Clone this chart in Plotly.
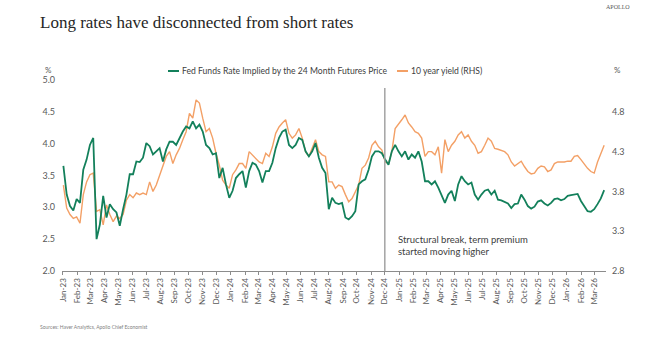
import pandas as pd
import plotly.graph_objects as go

# ---- data (~weekly) ----
fed_funds = [
    3.65, 3.20, 3.02, 2.95, 3.13, 3.07, 3.59, 3.75, 3.98, 4.09, 2.50, 2.73, 3.18, 2.84, 3.05, 2.97,
    2.92, 2.71, 2.97, 3.20, 3.52, 3.52, 3.72, 3.71, 3.78, 4.01, 3.96, 3.83, 3.88, 3.93, 3.72, 3.91, 4.03,
    4.03, 3.98, 4.09, 4.19, 4.27, 4.24, 4.35, 4.24, 4.30, 4.19, 3.98, 3.93, 3.83, 3.85, 3.46, 3.62,
    3.36, 3.15, 3.26, 3.46, 3.52, 3.57, 3.31, 3.57, 3.70, 3.67, 3.57, 3.39, 3.57, 3.57, 3.70, 3.93, 4.09,
    4.19, 4.22, 3.98, 3.93, 3.98, 4.09, 4.06, 3.88, 3.80, 3.88, 4.01, 3.78, 3.62, 3.54, 2.97, 3.15,
    3.07, 3.05, 3.07, 2.84, 2.81, 2.86, 2.94, 3.36, 3.41, 3.44, 3.59, 3.80, 3.88, 3.88, 3.85, 3.75, 3.67,
    3.88, 3.98, 3.88, 3.80, 3.88, 3.75, 3.83, 3.78, 3.88, 3.72, 3.41, 3.41, 3.36, 3.41, 3.31, 3.20,
    3.07, 3.20, 3.26, 3.10, 3.36, 3.49, 3.41, 3.36, 3.39, 3.20, 3.12, 3.20, 3.26, 3.28, 3.20, 3.26, 3.12,
    3.11, 3.09, 3.06, 2.99, 3.05, 3.06, 3.20, 3.12, 3.02, 2.98, 3.01, 3.09, 3.11, 3.06, 3.03, 3.07,
    3.13, 3.14, 3.11, 3.13, 3.18, 3.19, 3.20, 3.21, 3.10, 3.01, 2.94, 2.93, 2.97, 3.05, 3.14, 3.27,
]
ten_year = [
    3.88, 3.59, 3.51, 3.46, 3.48, 3.40, 3.76, 3.92, 4.01, 4.03, 3.55, 3.57, 3.38, 3.63, 3.51, 3.42,
    3.49, 3.46, 3.51, 3.69, 3.76, 3.72, 3.78, 3.76, 3.78, 3.76, 3.92, 3.80, 3.88, 4.01, 4.13, 4.24, 4.30,
    4.15, 4.26, 4.34, 4.45, 4.55, 4.78, 4.72, 4.95, 4.91, 4.72, 4.55, 4.59, 4.47, 4.28, 4.13, 3.94,
    3.88, 3.84, 4.01, 4.07, 4.15, 4.15, 4.09, 4.30, 4.26, 4.22, 4.17, 4.15, 4.28, 4.24, 4.36, 4.53, 4.61,
    4.66, 4.70, 4.53, 4.47, 4.51, 4.59, 4.47, 4.30, 4.24, 4.34, 4.45, 4.30, 4.26, 4.24, 3.92, 3.92,
    3.84, 3.88, 3.86, 3.76, 3.67, 3.71, 3.80, 3.88, 4.09, 4.13, 4.22, 4.38, 4.43, 4.36, 4.32, 4.17, 4.15,
    4.30, 4.59, 4.64, 4.70, 4.76, 4.66, 4.61, 4.55, 4.53, 4.47, 4.24, 4.30, 4.30, 4.26, 4.36, 4.03,
    4.45, 4.30, 4.38, 4.43, 4.51, 4.55, 4.47, 4.51, 4.43, 4.38, 4.28, 4.30, 4.38, 4.47, 4.43, 4.34, 4.33,
    4.31, 4.30, 4.26, 4.17, 4.12, 4.15, 4.18, 4.11, 4.05, 4.02, 4.03, 4.09, 4.12, 4.11, 4.05, 4.07,
    4.15, 4.17, 4.17, 4.17, 4.18, 4.18, 4.24, 4.25, 4.20, 4.14, 4.09, 4.05, 4.03, 4.17, 4.28, 4.38,
]
start_date, end_date = "2023-01-02", "2026-03-23"
dates_ff = pd.date_range(start_date, end_date, periods=len(fed_funds))
dates_ty = pd.date_range(start_date, end_date, periods=len(ten_year))

left_ticks = [2.0, 2.5, 3.0, 3.5, 4.0, 4.5, 5.0]
right_ticks = [2.8, 3.3, 3.8, 4.3, 4.8]
break_date = "2024-12-01"

title = "Long rates have disconnected from short rates"
name_ff = "Fed Funds Rate Implied by the 24 Month Futures Price"
name_ty = "10 year yield (RHS)"
note = "Structural break, term premium<br>started moving higher"
source = "Sources: Haver Analytics, Apollo Chief Economist"

GREEN = "#13805b"
ORANGE = "#f3a066"
TXT = "#595959"
SANS = "Lato"

# plot area in px
W, H = 645, 338
L, R, T, B = 62, 606, 80, 271
pw, ph = R - L, B - T


def px(x):
    return (x - L) / pw


def py(y):
    return (B - y) / ph


fig = go.Figure()
fig.add_trace(go.Scatter(x=dates_ty, y=ten_year, name=name_ty, yaxis="y",
                         mode="lines", line=dict(color=ORANGE, width=1.4), showlegend=False))
fig.add_trace(go.Scatter(x=dates_ff, y=fed_funds, name=name_ff, yaxis="y2",
                         mode="lines", line=dict(color=GREEN, width=1.8), showlegend=False))

fig.update_layout(
    width=W, height=H,
    margin=dict(l=L, r=W - R, t=T, b=H - B, pad=0),
    paper_bgcolor="white", plot_bgcolor="white",
    font=dict(family=SANS, size=8, color=TXT),
    xaxis=dict(
        type="date", range=["2022-12-30", "2026-03-27"],
        tick0="2023-01-01", dtick="M1", tickformat="%b-%y", tickangle=-90,
        ticks="outside", ticklen=3, tickcolor="#8c8c8c",
        showline=True, linecolor="#8c8c8c", linewidth=1,
        showgrid=False, zeroline=False,
        tickfont=dict(family=SANS, size=8, color=TXT),
    ),
    yaxis=dict(
        side="right", range=[2.8, 5.2], tickvals=right_ticks, tickformat=".1f",
        showgrid=False, zeroline=False, showline=False, ticks="",
        ticklabelstandoff=5,
        tickfont=dict(family=SANS, size=9, color=TXT),
    ),
    yaxis2=dict(
        side="left", overlaying="y", range=[2.0, 5.0], tickvals=left_ticks, tickformat=".1f",
        showgrid=False, zeroline=False, showline=False, ticks="",
        ticklabelstandoff=6,
        tickfont=dict(family=SANS, size=9, color=TXT),
    ),
)

# vertical structural break line
fig.add_shape(type="line", xref="x", yref="paper", x0=break_date, x1=break_date,
              y0=0, y1=py(88), line=dict(color="#a3a3a3", width=1.5))

ann = []
ann.append(dict(text=title, x=px(38), y=py(22), xref="paper", yref="paper",
                xanchor="left", yanchor="middle", showarrow=False,
                font=dict(family="Liberation Serif", size=17, color="#262626")))
ann.append(dict(text="APOLLO", x=px(632), y=py(7), xref="paper", yref="paper",
                xanchor="right", yanchor="middle", showarrow=False,
                font=dict(family="Liberation Serif", size=6, color=TXT)))
ann.append(dict(text="%", x=px(43), y=py(70), xref="paper", yref="paper",
                xanchor="left", yanchor="middle", showarrow=False,
                font=dict(family=SANS, size=8, color=TXT)))
ann.append(dict(text="%", x=px(612), y=py(70), xref="paper", yref="paper",
                xanchor="left", yanchor="middle", showarrow=False,
                font=dict(family=SANS, size=8, color=TXT)))
# legend (custom)
ann.append(dict(text=name_ff, x=px(180), y=py(71), xref="paper", yref="paper",
                xanchor="left", yanchor="middle", showarrow=False,
                font=dict(family=SANS, size=8.6, color="#404040")))
ann.append(dict(text=name_ty, x=px(409), y=py(71), xref="paper", yref="paper",
                xanchor="left", yanchor="middle", showarrow=False,
                font=dict(family=SANS, size=8.6, color="#404040")))
fig.add_shape(type="line", xref="paper", yref="paper", x0=px(168), x1=px(179),
              y0=py(71), y1=py(71), line=dict(color=GREEN, width=2))
fig.add_shape(type="line", xref="paper", yref="paper", x0=px(397), x1=px(408),
              y0=py(71), y1=py(71), line=dict(color=ORANGE, width=2))
ann.append(dict(text=note, x=px(396), y=py(245.5), xref="paper", yref="paper",
                xanchor="left", yanchor="middle", align="left", showarrow=False,
                font=dict(family=SANS, size=9.5, color="#404040")))
ann.append(dict(text=source, x=px(38), y=py(327), xref="paper", yref="paper",
                xanchor="left", yanchor="middle", showarrow=False,
                font=dict(family=SANS, size=5, color="#7f7f7f")))
fig.update_layout(annotations=ann)

fig.write_html("out.html")
